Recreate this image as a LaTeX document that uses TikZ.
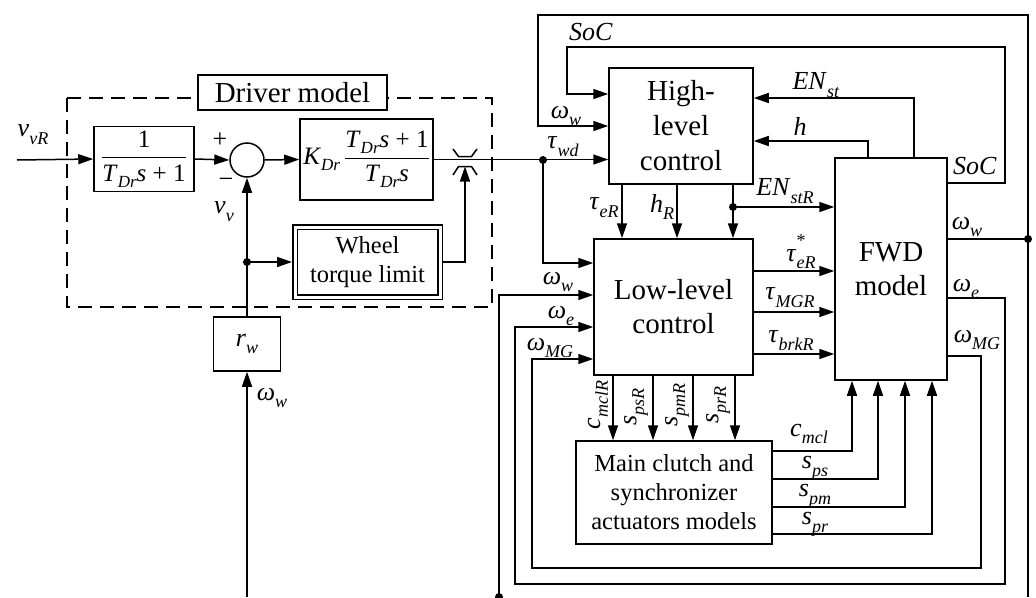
\documentclass[tikz,border=0pt]{standalone}
\usepackage{amsmath}
\usepackage{fontspec}
\setmainfont{Liberation Serif}
\usetikzlibrary{arrows.meta,calc}
\newcommand\mysub[1]{\raisebox{-0.3em}{\fontsize{18}{18}\selectfont\textit{#1}}}
\newcommand\mylb[2]{\textit{#1}\mysub{#2}}
\newcommand\mylbs[2]{\textit{#1}\rlap{\raisebox{0.55em}{\fontsize{18}{18}\selectfont *}}\mysub{#2}}
\newcommand\mytdr{\textit{T}\raisebox{-0.25em}{\fontsize{17}{17}\selectfont\textit{Dr}}}
\begin{document}
\begin{tikzpicture}[x=1pt,y=-1pt,
  line width=1.5pt,
  arr/.style={-{Triangle[length=15pt,width=10pt]}},
  blk/.style={draw, line width=1.5pt, fill=white, inner sep=0pt, align=center},
  dot/.style={circle, fill=black, draw=none, inner sep=0pt, minimum size=8pt},
  lbl/.style={inner sep=0pt, font=\fontsize{26}{30}\selectfont},
  bigtxt/.style={font=\fontsize{29}{34}\selectfont},
  midtxt/.style={font=\fontsize{24.5}{29}\selectfont}]
\fill[white] (0,0) rectangle (1036,597);
\useasboundingbox (0,0) rectangle (1036,597);

% driver model dashed frame
\draw[line width=1.5pt, dash pattern=on 14pt off 8pt] (67,98) rectangle (492,307);
\node[blk, bigtxt, minimum width=189pt, minimum height=35pt] (drv) at (292.5,92.5) {Driver model};

% driver blocks
\node[blk, minimum width=100pt, minimum height=65pt] (tf) at (144,159)
  {\fontsize{25}{30}\selectfont$\genfrac{}{}{1.3pt}{0}{\mbox{1}}{\mbox{\mytdr\textit{s} + 1}}$};
\node[draw, circle, fill=white, minimum size=34pt, inner sep=0pt] (sum) at (247,160) {};
\node[blk, minimum width=133pt, minimum height=81pt] (K) at (366.5,159.5)
  {\fontsize{25}{30}\selectfont\textit{K}\raisebox{-0.25em}{\fontsize{17}{17}\selectfont\textit{Dr}}\,$\genfrac{}{}{1.3pt}{0}{\mbox{\mytdr\textit{s} + 1}}{\mbox{\mytdr\textit{s}}}$};
\node[blk, midtxt, double, line width=1.2pt, double distance=3pt, minimum width=145pt, minimum height=70pt, outer sep=3pt] (wtl) at (367.5,262) {Wheel\\torque limit};
\node[blk, minimum width=67pt, minimum height=54pt] (rw) at (247,344) {\fontsize{26}{30}\selectfont\mylb{r}{w}};

% saturation symbol
\coordinate (sat) at (465,160);
\begin{scope}[shift={(465,160)}]
  \draw (-12,-11) -- (-6.5,-3.5) -- (6.5,-3.5) -- (12,-11);
  \draw (-12,15) -- (-6.5,6.5) -- (6.5,6.5) -- (12,15);
\end{scope}

% control blocks
\node[blk, bigtxt, minimum width=144pt, minimum height=116pt] (hl) at (681,126) {High-\\[1pt]level\\[1pt]control};
\node[blk, bigtxt, minimum width=159pt, minimum height=136pt] (ll) at (673.5,307) {Low-level\\control};
\node[blk, bigtxt, minimum width=112pt, minimum height=222pt] (fwd) at (891,269) {FWD\\model};
\node[blk, midtxt, minimum width=196pt, minimum height=103pt] (mc) at (674,492.5) {Main clutch and\\synchronizer\\actuators models};

% dots and free ends
\node[dot] (d1) at (247,262) {};
\node[dot] (d2) at (543,160) {};
\node[dot] (d3) at (1028,239) {};
\node[dot] (d4) at (499,597) {};
\node[dot] (d5) at (733,207) {};
\coordinate (vin) at (17,160);
\coordinate (rwin) at (247,597);
\coordinate (rbot) at (1028,597);

% driver connections
\draw[arr] (vin) -- (tf.west);
\draw[arr] (tf.east) -- (sum.west);
\draw[arr] (sum.east) -- (K.east -| K.west);
\draw[arr] (rw.north) -- (sum.south);
\draw[arr] (d1.center) -- (wtl.west);
\draw[arr] (rwin) -- (rw.south);
\draw[arr] (wtl.east) -| ([yshift=-6.5pt]sat);
\draw[arr] (K.east) -- (K.east -| hl.west);
\draw[arr] (d2.center) |- ([yshift=44pt]ll.west);

% high-level inputs
\draw[arr] (d3.center) -- (1028,15) -| (538,126) -- (hl.west);
\draw (d3.center) -- (rbot);
\draw[arr] ([yshift=86pt]fwd.east) -| (1005,47) -| (567,94) -- ([yshift=32pt]hl.west);
\draw[arr] ([xshift=23pt]fwd.north) |- ([yshift=28pt]hl.east);
\draw[arr] ([xshift=-23pt]fwd.north) |- ([yshift=-15pt]hl.east);
\draw ([yshift=30pt]fwd.east) -- (d3.center);

% high-level outputs
\path ([xshift=-59pt]hl.south) coordinate (h1) ([xshift=-4pt]hl.south) coordinate (h2) ([xshift=52pt]hl.south) coordinate (h3);
\draw[arr] (h1) -- (h1 |- ll.north);
\draw[arr] (h2) -- (h2 |- ll.north);
\draw[arr] (h3) -- (h3 |- ll.north);
\draw[arr] (d5.center) -- (d5 -| fwd.west);

% low-level inputs
\draw[arr] (d4.center) |- ([yshift=12pt]ll.west);
\draw[arr] ([yshift=-29pt]fwd.east) -| (1005,584) -| (515,327) -- ([yshift=-20pt]ll.west);
\draw[arr] ([yshift=-87pt]fwd.east) -| (981,568) -| (532,359) -- ([yshift=-52pt]ll.west);

% low-level outputs
\path ([yshift=36pt]ll.east) coordinate (o1) ([yshift=-5pt]ll.east) coordinate (o2) ([yshift=-47pt]ll.east) coordinate (o3);
\draw[arr] (o1) -- (o1 -| fwd.west);
\draw[arr] (o2) -- (o2 -| fwd.west);
\draw[arr] (o3) -- (o3 -| fwd.west);
\path ([xshift=-60.5pt]ll.south) coordinate (c1) ([xshift=-20.5pt]ll.south) coordinate (c2)
      ([xshift=19.5pt]ll.south) coordinate (c3) ([xshift=61.5pt]ll.south) coordinate (c4);
\draw[arr] (c1) -- (c1 |- mc.north);
\draw[arr] (c2) -- (c2 |- mc.north);
\draw[arr] (c3) -- (c3 |- mc.north);
\draw[arr] (c4) -- (c4 |- mc.north);

% clutch outputs
\draw[arr] ([yshift=41.5pt]mc.east) -| ([xshift=-39pt]fwd.south);
\draw[arr] ([yshift=13.5pt]mc.east) -| ([xshift=-13pt]fwd.south);
\draw[arr] ([yshift=-14.5pt]mc.east) -| ([xshift=14pt]fwd.south);
\draw[arr] ([yshift=-41.5pt]mc.east) -| ([xshift=41pt]fwd.south);

% labels
\node[lbl] (Lvvr) at (33,135) {\mylb{v}{vR}};
\node[lbl] (Lplus) at (220,140) {+};
\node[lbl] (Lminus) at (226,183) {−};
\node[lbl] (Lvv) at (224,212) {\mylb{v}{v}};
\node[lbl] (Lwwb) at (272,398) {\mylb{ω}{w}};
\node[lbl] (Lwwt) at (566,116) {\mylb{ω}{w}};
\node[lbl] (Ltwd) at (563,147) {\mylb{τ}{wd}};
\node[lbl] (Lsoc1) at (591,32) {\textit{SoC}};
\node[lbl] (Lenst) at (816,85) {\mylb{EN}{st}};
\node[lbl] (Lh) at (800,126) {\textit{h}};
\node[lbl] (Lsoc2) at (975,166) {\textit{SoC}};
\node[lbl] (Lwwr) at (967,227) {\mylb{ω}{w}};
\node[lbl] (Lter) at (604,208) {\mylb{τ}{eR}};
\node[lbl] (Lhr) at (662,207) {\mylb{h}{R}};
\node[lbl] (Lenstr) at (785,191) {\mylb{EN}{stR}};
\node[lbl] (Lwwl) at (558,282) {\mylb{ω}{w}};
\node[lbl] (Lwel) at (561,316) {\mylb{ω}{e}};
\node[lbl] (Lwmgl) at (550,348) {\mylb{ω}{MG}};
\node[lbl] (Ltes) at (801,252) {\mylbs{τ}{eR}};
\node[lbl] (Ltmg) at (790,298) {\mylb{τ}{MGR}};
\node[lbl] (Ltbrk) at (791,341) {\mylb{τ}{brkR}};
\node[lbl] (Lwer) at (966,289) {\mylb{ω}{e}};
\node[lbl] (Lwmgr) at (977,340) {\mylb{ω}{MG}};
\node[lbl, rotate=90] (Lcmclr) at (598,405) {\mylb{c}{mclR}};
\node[lbl, rotate=90] (Lspsr) at (636,407) {\mylb{s}{psR}};
\node[lbl, rotate=90] (Lspmr) at (677,405) {\mylb{s}{pmR}};
\node[lbl, rotate=90] (Lsprr) at (718,405) {\mylb{s}{prR}};
\node[lbl] (Lcmcl) at (809,434) {\mylb{c}{mcl}};
\node[lbl] (Lsps) at (815,468) {\mylb{s}{ps}};
\node[lbl] (Lspm) at (815,496) {\mylb{s}{pm}};
\node[lbl] (Lspr) at (815,524) {\mylb{s}{pr}};
\end{tikzpicture}
\end{document}
